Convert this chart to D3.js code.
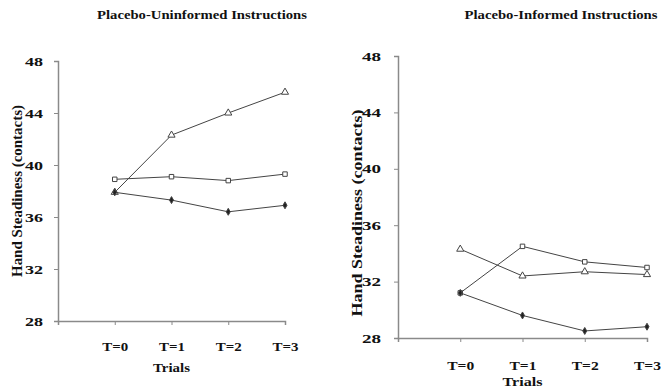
<!DOCTYPE html>
<html>
<head>
<meta charset="utf-8">
<script src="https://cdn.jsdelivr.net/npm/d3@7"></script>
<style>
  body { margin: 0; background: #fff; }
  text { font-family: "Liberation Serif", "Times New Roman", serif; font-weight: bold; fill: #111; }
</style>
</head>
<body>
<div id="chart"></div>
<script>
// chart data
const trials = ["T=0", "T=1", "T=2", "T=3"];
const yTicks = [28, 32, 36, 40, 44, 48];

const uninformedTriangle = [37.9, 42.3, 44.0, 45.6];
const uninformedSquare = [38.9, 39.1, 38.8, 39.3];
const uninformedDiamond = [37.9, 37.3, 36.4, 36.9];

const informedTriangle = [34.3, 32.4, 32.7, 32.5];
const informedSquare = [31.2, 34.5, 33.4, 33.0];
const informedDiamond = [31.2, 29.6, 28.5, 28.8];

const width = 661, height = 388;

const svg = d3.select("#chart").append("svg")
  .attr("width", width)
  .attr("height", height);

const panels = [
  {
    title: "Placebo-Uninformed Instructions",
    series: [
      { values: uninformedTriangle, shape: d3.symbolTriangle, size: 22, fill: "#fff" },
      { values: uninformedSquare, shape: d3.symbolSquare, size: 20, fill: "#fff" },
      { values: uninformedDiamond, shape: d3.symbolDiamond, size: 14, fill: "#222" }
    ],
    left: 58, right: 285, top: 61, bottom: 321,
    titleX: 202, titleY: 19, titleW: 210,
    yLabelX: 22, yLabelY: 191, yLabelW: 172,
    tickW: 18, tickPad: 11, xTickPad: 17, xTickW: 26,
    xLabelY: 372, xLabelW: 37
  },
  {
    title: "Placebo-Informed Instructions",
    series: [
      { values: informedTriangle, shape: d3.symbolTriangle, size: 22, fill: "#fff" },
      { values: informedSquare, shape: d3.symbolSquare, size: 20, fill: "#fff" },
      { values: informedDiamond, shape: d3.symbolDiamond, size: 14, fill: "#222" }
    ],
    left: 398, right: 647, top: 56, bottom: 338,
    titleX: 561, titleY: 19, titleW: 193,
    yLabelX: 362, yLabelY: 213, yLabelW: 207,
    tickW: 19, tickPad: 13, xTickPad: 19, xTickW: 27,
    xLabelY: 386, xLabelW: 40
  }
];

panels.forEach(p => {
  const g = svg.append("g");

  // leading blank slot so T=0 sits one step in from the y axis
  const x = d3.scalePoint()
    .domain([""].concat(trials))
    .range([p.left, p.right]);

  const y = d3.scaleLinear()
    .domain([28, 48])
    .range([p.bottom, p.top]);

  // y axis
  const yAxis = g.append("g")
    .attr("transform", "translate(" + p.left + ",0)")
    .call(d3.axisLeft(y).tickValues(yTicks).tickSize(4).tickPadding(p.tickPad).tickFormat(d3.format("d")));
  yAxis.selectAll("text")
    .style("font-size", "13px")
    .attr("textLength", p.tickW)
    .attr("lengthAdjust", "spacingAndGlyphs");

  // x axis
  const xAxis = g.append("g")
    .attr("transform", "translate(0," + p.bottom + ")")
    .call(d3.axisBottom(x).tickValues(trials).tickSize(4).tickPadding(p.xTickPad));
  xAxis.selectAll("text")
    .style("font-size", "13px")
    .attr("textLength", p.xTickW)
    .attr("lengthAdjust", "spacingAndGlyphs");

  [yAxis, xAxis].forEach(a => {
    a.select(".domain").attr("stroke", "#8a8a8a").attr("stroke-width", 1.5);
    a.selectAll(".tick line").attr("stroke", "#8a8a8a");
  });

  // lines and markers
  p.series.forEach(s => {
    const line = d3.line()
      .x((d, i) => x(trials[i]))
      .y(d => y(d));

    g.append("path")
      .datum(s.values)
      .attr("fill", "none")
      .attr("stroke", "#444")
      .attr("stroke-width", 1)
      .attr("d", line);

    g.selectAll(null)
      .data(s.values)
      .enter()
      .append("path")
      .attr("transform", (d, i) => "translate(" + x(trials[i]) + "," + y(d) + ")")
      .attr("d", d3.symbol().type(s.shape).size(s.size))
      .attr("fill", s.fill)
      .attr("stroke", "#444")
      .attr("stroke-width", 1);
  });

  // titles and axis labels
  g.append("text")
    .attr("x", p.titleX)
    .attr("y", p.titleY)
    .attr("text-anchor", "middle")
    .attr("textLength", p.titleW)
    .attr("lengthAdjust", "spacingAndGlyphs")
    .style("font-size", "13px")
    .text(p.title);

  g.append("text")
    .attr("transform", "translate(" + p.yLabelX + "," + p.yLabelY + ") rotate(-90)")
    .attr("text-anchor", "middle")
    .attr("textLength", p.yLabelW)
    .attr("lengthAdjust", "spacingAndGlyphs")
    .style("font-size", "14px")
    .text("Hand Steadiness (contacts)");

  g.append("text")
    .attr("x", x(trials[1]))
    .attr("y", p.xLabelY)
    .attr("text-anchor", "middle")
    .attr("textLength", p.xLabelW)
    .attr("lengthAdjust", "spacingAndGlyphs")
    .style("font-size", "13px")
    .text("Trials");
});
</script>
</body>
</html>
